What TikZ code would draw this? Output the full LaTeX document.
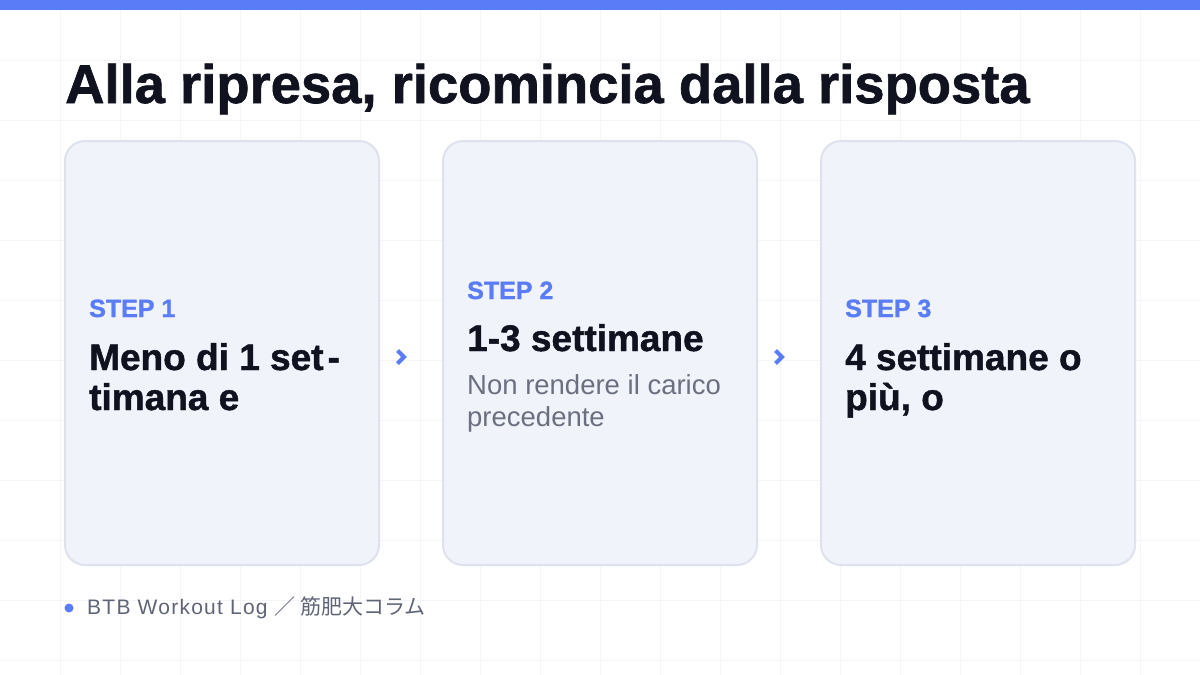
\documentclass[tikz,border=0pt]{standalone}
\usepackage{fontspec}
\setmainfont{Liberation Sans}
\newfontfamily\heavy{Liberation Sans}[BoldFeatures={FakeBold=1.2}]
\newfontfamily\footfont{Liberation Sans}[LetterSpace=6]
\newfontfamily\cjk{Noto Sans CJK JP}
\usetikzlibrary{positioning,calc}
\definecolor{accent}{HTML}{5B7CF7}
\definecolor{ink}{HTML}{10131F}
\definecolor{cardfill}{HTML}{F1F3FB}
\definecolor{cardline}{HTML}{DEE2EE}
\definecolor{subgray}{HTML}{6B7080}
\definecolor{footgray}{HTML}{5F6577}
\definecolor{gridline}{HTML}{F4F5F8}
\newcommand*\cardw{314pt}
\newcommand*\cardh{424pt}
\tikzset{
    card/.style      = {draw=cardline, line width=2pt, fill=cardfill,
                       rounded corners=20pt, inner sep=0pt,
                       minimum width=\cardw, minimum height=\cardh},
    steplabel/.style = {text=accent, anchor=base west, inner sep=0pt,
                       font=\heavy\bfseries\fontsize{25}{28}\selectfont},
    cardtitle/.style = {text=ink, anchor=base west, inner sep=0pt,
                       font=\heavy\bfseries\fontsize{37}{40}\selectfont},
    cardsub/.style   = {text=subgray, anchor=base west, inner sep=0pt,
                       font=\fontsize{27.5}{32}\selectfont},
    chevron/.style   = {draw=accent, line width=4pt, miter limit=4},
    headline/.style  = {text=ink, anchor=base west, inner sep=0pt,
                       font=\heavy\bfseries\fontsize{54.4}{60}\selectfont},
    footnote/.style  = {text=footgray, anchor=west, inner sep=0pt,
                       font=\footfont\fontsize{21}{24}\selectfont},
}
\begin{document}
\begin{tikzpicture}[x=1pt,y=-1pt]
    % canvas and faint grid
    \useasboundingbox[fill=white] (0,0) rectangle (1200,675);
    \foreach \gx in {60,120,...,1140} {
        \draw[gridline, line width=1pt] (\gx,0) -- (\gx,675);
    }
    \foreach \gy in {60,120,...,660} {
        \draw[gridline, line width=1pt] (0,\gy) -- (1200,\gy);
    }
    \fill[accent] (0,0) rectangle (1200,10);

    % headline
    \node[headline] (title) at (65,103) {Alla ripresa, ricomincia dalla risposta};

    % the three step cards
    \foreach \i/\cx in {1/222,2/600,3/978} {
        \node[card] (c\i) at (\cx,353) {};
    }

    % card 1
    \node[steplabel] (s1) at ($(c1.west)+(25,-36)$) {STEP 1};
    \node[cardtitle] (t1a) at ($(c1.west)+(25,17)$) {Meno di 1 set\kern4pt-};
    \node[cardtitle] (t1b) at ($(c1.west)+(25,57)$) {timana e};

    % card 2
    \node[steplabel] (s2) at ($(c2.west)+(25,-54)$) {STEP 2};
    \node[cardtitle] (t2) at ($(c2.west)+(25,-2)$) {1-3 settimane};
    \node[cardsub] (d2a) at ($(c2.west)+(25,41)$) {Non rendere il carico};
    \node[cardsub] (d2b) at ($(c2.west)+(25,73)$) {precedente};

    % card 3
    \node[steplabel] (s3) at ($(c3.west)+(25,-36)$) {STEP 3};
    \node[cardtitle] (t3a) at ($(c3.west)+(25,17)$) {4 settimane o};
    \node[cardtitle] (t3b) at ($(c3.west)+(25,57)$) {più, o};

    % chevrons between cards
    \foreach \a/\b [count=\k] in {c1/c2,c2/c3} {
        \coordinate (ch\k) at ($(\a.east)!0.5!(\b.west)+(-10,4)$);
        \draw[chevron] ([shift={(-3.5,-6.5)}]ch\k) -- ++(6.5,6.5) -- ++(-6.5,6.5);
    }

    % footer
    \fill[accent] (69,608) circle (4.5pt);
    \node[footnote] (foot) at (87,608) {BTB Workout Log {\cjk ／ 筋肥大コラム}};
\end{tikzpicture}
\end{document}
